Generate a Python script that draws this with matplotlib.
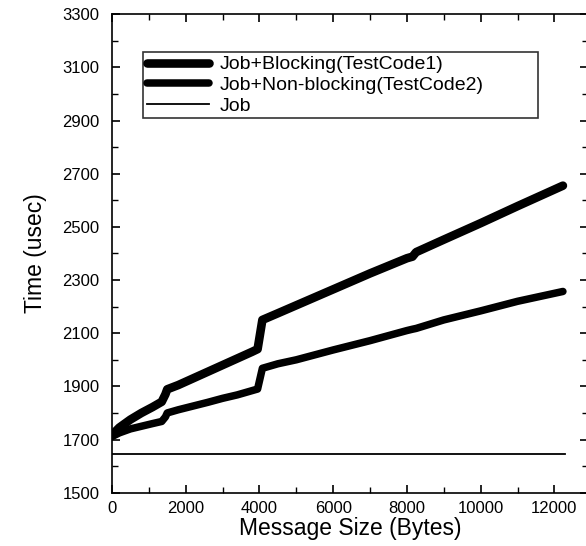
import numpy as np
import matplotlib
matplotlib.use("Agg")
import matplotlib.pyplot as plt
from matplotlib.ticker import MultipleLocator

# ── data ─────────────────────────────────────────────────────────────────────

msg_size = [0, 200, 500, 800, 1100, 1350, 1450, 1500, 1800, 2200, 2600,
            3000, 3400, 3800, 3950, 4080, 4500, 5000, 6000, 7000, 8000,
            8150, 8250, 9000, 10000, 11000, 12230]

t_blocking = [1717, 1745, 1775, 1800, 1822, 1842, 1870, 1889, 1905, 1930,
              1955, 1980, 2005, 2030, 2040, 2150, 2175, 2205, 2265, 2325,
              2382, 2388, 2405, 2452, 2514, 2578, 2655]

t_nonblocking = [1711, 1725, 1740, 1750, 1760, 1768, 1785, 1800, 1812, 1826,
                 1840, 1855, 1868, 1884, 1890, 1968, 1985, 2000, 2037, 2072,
                 2110, 2115, 2118, 2150, 2184, 2220, 2257]

job_size = [0, 12280]
t_job = [1645, 1645]

labels = ["Job+Blocking(TestCode1)", "Job+Non-blocking(TestCode2)", "Job"]

y_ticks = [1500, 1700, 1900, 2100, 2300, 2500, 2700, 2900, 3100, 3300]

# ── style ────────────────────────────────────────────────────────────────────

plt.rcParams.update({
    "font.family": ["Liberation Sans", "DejaVu Sans"],
    "font.size": 12,
    "xtick.direction": "in",
    "ytick.direction": "in",
    "xtick.top": True,
    "ytick.right": True,
})

fig = plt.figure(figsize=(5.86, 5.46), dpi=100)
ax = fig.add_axes([0.191, 0.0976, 0.8124, 0.8764])

ax.plot(msg_size, t_blocking, color="black", linewidth=6.2,
        solid_capstyle="round", solid_joinstyle="round", label=labels[0])
ax.plot(msg_size, t_nonblocking, color="black", linewidth=5.4,
        solid_capstyle="round", solid_joinstyle="round", label=labels[1])
ax.plot(job_size, t_job, color="black", linewidth=1.3, label=labels[2])

ax.set_xlim(0, 12910)
ax.set_ylim(1500, 3300)
ax.xaxis.set_major_locator(MultipleLocator(2000))
ax.xaxis.set_minor_locator(MultipleLocator(1000))
ax.set_yticks(y_ticks)
ax.yaxis.set_minor_locator(MultipleLocator(100))
ax.tick_params(which="major", length=6, width=1.2, labelsize=12)
ax.tick_params(which="minor", length=4, width=1.0)
ax.tick_params(axis="x", pad=6)
ax.tick_params(axis="y", pad=9)
for sp in ax.spines.values():
    sp.set_linewidth(1.2)

ax.set_xlabel("Message Size (Bytes)", fontsize=16.5, labelpad=1)
ax.set_ylabel("Time (usec)", fontsize=16.5, labelpad=11)

leg = ax.legend(loc="upper left", bbox_to_anchor=(0.0645, 0.783, 0.8305, 0.138),
                mode="expand", fontsize=14, frameon=True, fancybox=False,
                handlelength=3.2, handletextpad=0.55, labelspacing=0.15,
                borderpad=0.2, borderaxespad=0)
leg.get_frame().set_edgecolor("black")
leg.get_frame().set_linewidth(1.2)

fig.savefig("out.png", dpi=100)
